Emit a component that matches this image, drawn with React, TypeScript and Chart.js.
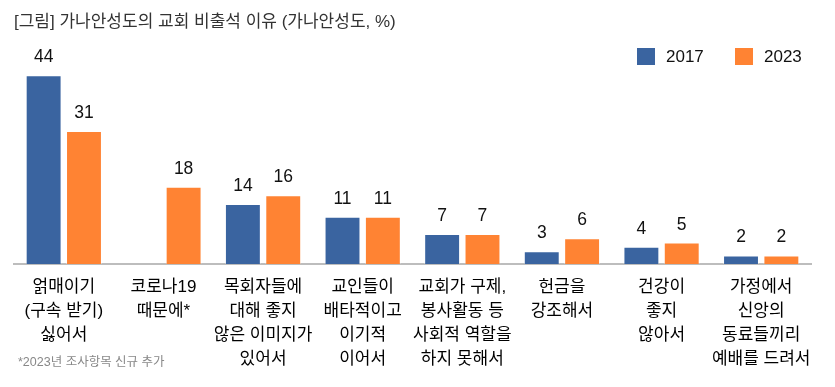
import React, { useEffect, useRef } from "react";
import { Chart, registerables } from "chart.js";

Chart.register(...registerables);

const categories: string[][] = [
  ["얽매이기", "(구속 받기)", "싫어서"],
  ["코로나19", "때문에*"],
  ["목회자들에", "대해 좋지", "않은 이미지가", "있어서"],
  ["교인들이", "배타적이고", "이기적", "이어서"],
  ["교회가 구제,", "봉사활동 등", "사회적 역할을", "하지 못해서"],
  ["헌금을", "강조해서"],
  ["건강이", "좋지", "않아서"],
  ["가정에서", "신앙의", "동료들끼리", "예배를 드려서"],
];
const series2017: (number | null)[] = [44, null, 14, 11, 7, 3, 4, 2];
const series2023: number[] = [31, 18, 16, 11, 7, 6, 5, 2];
const seriesLabels = ["2017", "2023"];
const title = "[그림] 가나안성도의 교회 비출석 이유 (가나안성도, %)";
const footnote = "*2023년 조사항목 신규 추가";

const BLUE = "#3A64A0";
const ORANGE = "#FF8333";
const FONT = "'Liberation Sans', 'Noto Sans CJK KR', sans-serif";

const overlay = {
  id: "overlay",
  afterDatasetsDraw(chart: any) {
    const ctx = chart.ctx;
    ctx.save();
    // data labels
    ctx.fillStyle = "#111";
    ctx.font = `17.5px ${FONT}`;
    ctx.textAlign = "center";
    ctx.textBaseline = "bottom";
    chart.data.datasets.forEach((ds: any, i: number) => {
      const meta = chart.getDatasetMeta(i);
      meta.data.forEach((bar: any, j: number) => {
        const v = ds.data[j];
        if (v === null || v === undefined) return;
        ctx.fillText(String(v), bar.x, bar.y - 9);
      });
    });
    // title
    ctx.textAlign = "left";
    ctx.textBaseline = "middle";
    ctx.fillStyle = "#333";
    ctx.font = `17px ${FONT}`;
    ctx.fillText(title, 14, 22);
    // legend
    const legendItems = [
      { x: 637, color: BLUE, label: seriesLabels[0] },
      { x: 735, color: ORANGE, label: seriesLabels[1] },
    ];
    legendItems.forEach((it) => {
      ctx.fillStyle = it.color;
      ctx.fillRect(it.x, 48, 18, 17);
      ctx.fillStyle = "#111";
      ctx.font = `17px ${FONT}`;
      ctx.fillText(it.label, it.x + 29, 57);
    });
    // footnote
    ctx.fillStyle = "#888";
    ctx.font = `12.5px ${FONT}`;
    ctx.fillText(footnote, 18, 363);
    ctx.restore();
  },
};

export default function App() {
  const ref = useRef<HTMLCanvasElement>(null);
  useEffect(() => {
    if (!ref.current) return;
    const chart = new Chart(ref.current, {
      type: "bar",
      data: {
        labels: categories,
        datasets: [
          {
            label: seriesLabels[0],
            data: series2017,
            backgroundColor: BLUE,
            borderColor: "rgba(255,255,255,0.35)",
            borderWidth: 1,
          },
          {
            label: seriesLabels[1],
            data: series2023,
            backgroundColor: ORANGE,
            borderColor: "rgba(255,255,255,0.35)",
            borderWidth: 1,
          },
        ],
      },
      plugins: [overlay],
      options: {
        responsive: false,
        animation: false,
        maintainAspectRatio: false,
        datasets: {
          bar: { categoryPercentage: 0.81, barPercentage: 0.89 },
        },
        layout: { padding: { left: 14, right: 24, top: 58, bottom: 13 } },
        plugins: {
          legend: { display: false },
          tooltip: { enabled: false },
          title: { display: false },
        },
        scales: {
          x: {
            grid: { display: false },
            border: { display: true, color: "#bdbdbd", width: 2 },
            ticks: {
              color: "#000",
              font: { size: 17, family: FONT, lineHeight: 24 / 17 },
              padding: 3,
              maxRotation: 0,
              autoSkip: false,
            },
          },
          y: {
            display: false,
            min: 0,
            max: 48,
          },
        },
      },
    });
    return () => chart.destroy();
  }, []);
  return (
    <div style={{ position: "fixed", left: 0, top: 0, width: 835, height: 387, background: "#fff" }}>
      <canvas ref={ref} width={835} height={387} style={{ width: 835, height: 387 }} />
    </div>
  );
}
